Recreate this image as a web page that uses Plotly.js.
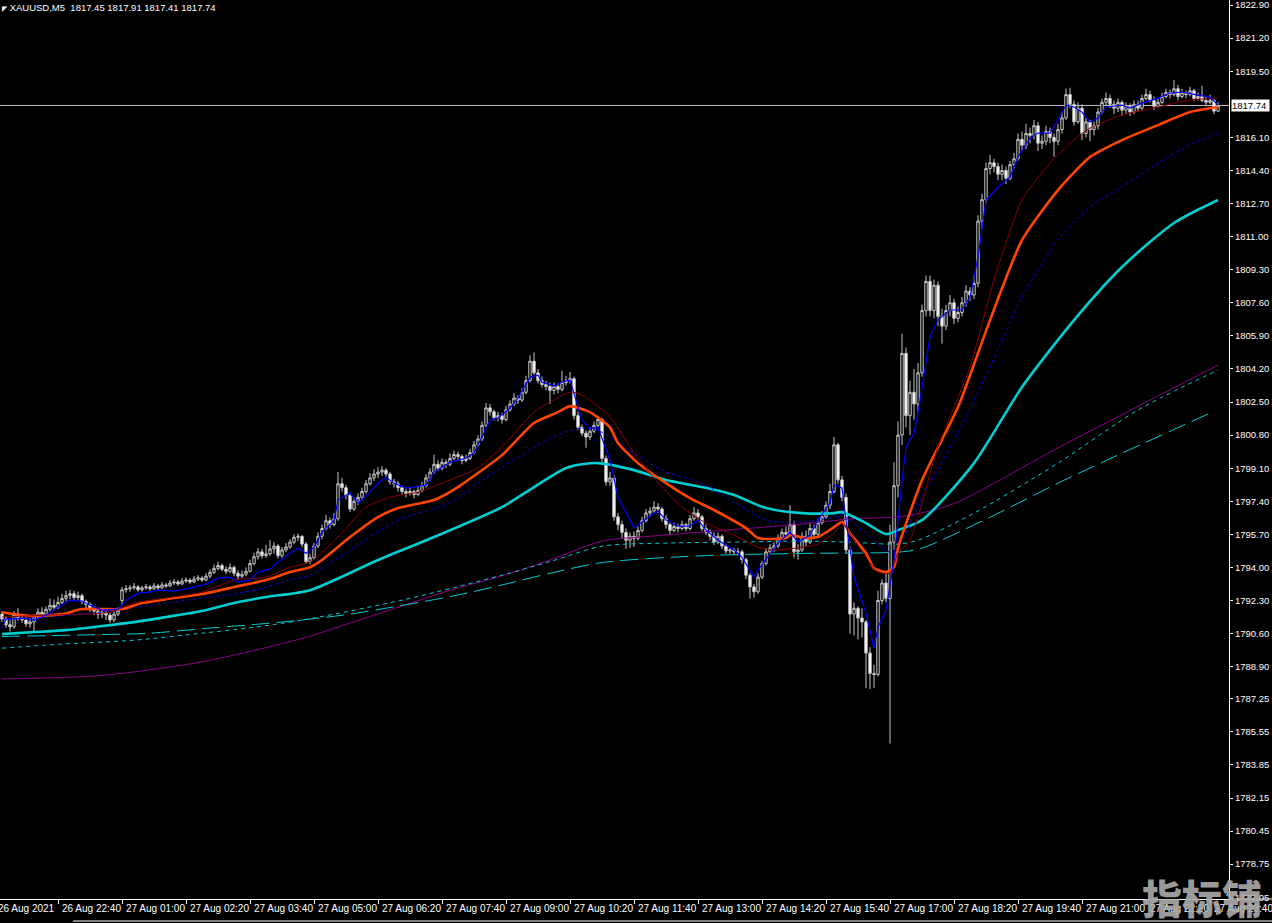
<!DOCTYPE html>
<html><head><meta charset="utf-8">
<script src="https://cdn.plot.ly/plotly-3.0.1.min.js"></script>
<style>html,body{margin:0;padding:0;background:#000;}#chart{width:1272px;height:923px;}</style>
</head><body><div id="chart"></div>
<script>
// XAUUSD M5 candles, 26 Aug 21:30 .. 27 Aug 23:50 (305 bars)
const opens = [
1791.60,1791.35,1791.05,1790.95,1791.55,1791.40,1791.30,1791.10,1791.20,1791.45,
1791.70,1791.60,1791.85,1792.05,1791.95,1792.20,1792.40,1792.55,1792.65,1792.45,
1792.55,1792.25,1792.10,1791.85,1791.75,1791.60,1791.70,1791.55,1791.30,1791.60,
1792.30,1792.85,1792.90,1792.95,1793.00,1792.85,1792.95,1793.00,1792.90,1793.05,
1792.95,1793.10,1793.05,1793.20,1793.25,1793.15,1793.30,1793.35,1793.25,1793.40,
1793.45,1793.35,1793.55,1793.75,1793.95,1794.10,1793.90,1793.80,1794.00,1793.70,
1793.55,1793.65,1793.80,1794.20,1794.55,1794.80,1794.60,1794.70,1794.95,1795.10,
1794.60,1794.90,1795.05,1795.30,1795.55,1795.60,1795.20,1794.30,1794.50,1795.10,
1795.60,1796.00,1796.40,1796.20,1796.50,1798.30,1798.10,1797.70,1797.00,1797.40,
1797.60,1797.90,1798.30,1798.60,1798.80,1798.90,1799.00,1798.80,1798.40,1798.30,
1798.10,1797.90,1797.80,1797.90,1797.75,1797.95,1798.20,1798.60,1798.90,1799.30,
1799.10,1799.40,1799.30,1799.60,1799.80,1799.70,1799.50,1799.60,1799.90,1800.30,
1800.60,1801.30,1802.20,1802.00,1801.70,1801.80,1801.60,1802.10,1802.40,1802.70,
1802.60,1803.00,1803.60,1804.60,1804.00,1803.60,1803.40,1803.30,1803.10,1803.30,
1803.15,1803.50,1803.60,1803.70,1801.80,1801.20,1800.90,1800.70,1801.00,1801.30,
1801.60,1799.60,1798.40,1798.60,1796.60,1796.20,1795.80,1795.40,1795.60,1795.50,
1795.90,1796.40,1796.80,1796.90,1797.10,1797.00,1796.50,1796.20,1795.90,1796.10,
1796.00,1796.20,1796.00,1796.50,1796.80,1796.60,1796.00,1795.80,1795.60,1795.30,
1795.60,1795.10,1794.85,1794.90,1794.80,1794.80,1794.40,1793.60,1793.00,1792.75,
1793.50,1794.20,1794.80,1795.00,1795.10,1795.50,1795.80,1795.70,1796.20,1794.80,
1794.90,1795.60,1795.30,1796.00,1795.70,1796.30,1796.60,1797.20,1797.90,1800.30,
1798.50,1797.60,1794.90,1791.60,1791.90,1791.40,1791.20,1789.60,1788.55,1788.50,
1792.30,1793.20,1792.40,1795.30,1798.20,1800.80,1805.00,1801.80,1803.00,1802.40,
1804.00,1807.20,1808.70,1807.20,1808.50,1806.90,1806.40,1807.20,1807.60,1806.80,
1807.10,1807.60,1808.20,1808.00,1808.60,1811.80,1812.90,1814.50,1814.80,1814.60,
1814.20,1814.40,1814.00,1814.70,1815.00,1816.00,1815.70,1816.30,1816.20,1816.70,
1815.80,1815.90,1816.40,1816.10,1815.90,1816.50,1817.10,1818.30,1817.80,1816.90,
1817.60,1816.30,1816.90,1816.50,1816.70,1817.40,1817.90,1818.10,1817.80,1817.60,
1817.90,1817.50,1817.70,1817.40,1817.80,1817.60,1818.10,1818.30,1818.00,1817.70,
1817.90,1818.20,1818.40,1818.30,1818.60,1818.20,1818.40,1818.30,1818.50,1818.10,
1818.20,1818.00,1817.90,1818.00,1817.45];
const highs = [
1791.75,1791.50,1791.30,1791.75,1791.90,1791.60,1791.45,1791.40,1791.60,1791.90,
1791.95,1792.00,1792.40,1792.35,1792.50,1792.65,1792.80,1792.85,1792.80,1792.75,
1792.65,1792.35,1792.20,1792.00,1791.90,1791.85,1791.80,1791.70,1791.75,1791.95,
1793.00,1793.10,1793.10,1793.20,1793.10,1793.05,1793.15,1793.10,1793.20,1793.15,
1793.25,1793.20,1793.35,1793.40,1793.35,1793.45,1793.50,1793.45,1793.55,1793.60,
1793.55,1793.70,1793.90,1794.15,1794.30,1794.20,1794.05,1794.20,1794.10,1793.85,
1793.85,1794.00,1794.40,1794.75,1795.00,1794.95,1795.15,1795.40,1795.30,1795.20,
1795.05,1795.25,1795.45,1795.70,1795.75,1795.65,1795.30,1794.70,1795.25,1795.80,
1796.20,1796.70,1796.55,1796.80,1798.90,1798.60,1798.25,1797.85,1797.60,1797.80,
1798.10,1798.50,1798.85,1799.05,1799.15,1799.20,1799.10,1798.90,1798.55,1798.45,
1798.20,1798.05,1798.15,1798.00,1798.20,1798.40,1798.80,1799.10,1799.80,1799.50,
1799.60,1799.55,1799.85,1800.00,1799.95,1799.80,1799.80,1800.10,1800.50,1800.80,
1801.50,1802.45,1802.40,1802.10,1802.00,1801.95,1802.30,1802.60,1802.95,1802.85,
1803.20,1803.85,1804.90,1805.05,1804.20,1803.80,1803.60,1803.50,1803.50,1803.45,
1804.10,1803.85,1804.05,1803.80,1802.00,1801.35,1801.05,1801.20,1801.50,1801.80,
1801.70,1799.75,1798.90,1798.75,1796.80,1796.40,1796.00,1795.80,1795.85,1796.10,
1796.60,1797.00,1797.10,1797.40,1797.30,1797.10,1796.70,1796.35,1796.30,1796.25,
1796.40,1796.30,1796.70,1797.10,1797.00,1796.70,1796.20,1795.95,1795.80,1795.80,
1795.70,1795.20,1795.05,1795.00,1795.00,1794.90,1794.50,1793.70,1793.15,1793.70,
1794.35,1795.00,1795.20,1795.30,1795.70,1796.00,1796.10,1797.20,1796.40,1795.20,
1795.80,1795.90,1796.30,1796.20,1796.50,1796.90,1797.40,1798.30,1800.70,1800.40,
1798.70,1797.80,1795.10,1792.20,1792.00,1791.90,1791.30,1789.90,1789.00,1792.80,
1793.40,1793.80,1796.20,1799.40,1801.50,1806.00,1805.30,1803.60,1804.20,1804.50,
1807.50,1809.00,1809.00,1808.80,1808.70,1807.30,1807.50,1808.00,1807.80,1807.40,
1807.90,1808.50,1808.40,1809.00,1812.10,1813.20,1814.80,1815.20,1815.00,1814.80,
1814.70,1814.60,1814.90,1815.30,1816.30,1816.40,1816.80,1816.60,1817.00,1816.90,
1816.20,1816.70,1816.60,1816.30,1816.80,1817.40,1818.60,1818.65,1818.00,1817.90,
1817.80,1817.10,1817.00,1816.90,1817.60,1818.10,1818.40,1818.30,1818.00,1818.10,
1818.00,1817.90,1817.85,1818.00,1818.00,1818.30,1818.60,1818.50,1818.20,1818.10,
1818.40,1818.60,1818.55,1819.05,1818.80,1818.60,1818.50,1818.70,1818.60,1818.40,
1818.75,1818.20,1818.30,1818.10,1817.91];
const lows = [
1791.20,1790.90,1790.70,1790.85,1791.25,1791.15,1790.95,1790.90,1790.70,1791.35,
1791.40,1791.50,1791.75,1791.80,1791.85,1792.10,1792.25,1792.35,1792.30,1792.30,
1792.10,1791.90,1791.70,1791.55,1791.35,1791.40,1791.30,1791.15,1791.20,1791.50,
1792.05,1792.70,1792.75,1792.85,1792.75,1792.75,1792.85,1792.80,1792.85,1792.85,
1792.90,1792.95,1793.00,1793.10,1793.05,1793.10,1793.20,1793.15,1793.20,1793.30,
1793.25,1793.30,1793.45,1793.65,1793.85,1793.80,1793.65,1793.70,1793.55,1793.40,
1793.45,1793.55,1793.75,1794.10,1794.40,1794.45,1794.50,1794.60,1794.70,1794.45,
1794.50,1794.80,1794.95,1795.20,1795.35,1795.05,1794.20,1794.15,1794.40,1795.00,
1795.45,1795.90,1796.00,1796.10,1796.40,1797.90,1797.50,1796.85,1796.90,1797.20,
1797.45,1797.80,1798.20,1798.45,1798.60,1798.70,1798.60,1798.25,1798.10,1797.90,
1797.75,1797.60,1797.70,1797.55,1797.65,1797.85,1798.10,1798.45,1798.80,1798.95,
1799.00,1799.10,1799.20,1799.50,1799.50,1799.30,1799.40,1799.50,1799.80,1800.20,
1800.50,1801.20,1801.80,1801.55,1801.50,1801.40,1801.50,1802.00,1802.30,1802.40,
1802.50,1802.90,1803.50,1803.90,1803.45,1803.25,1803.10,1802.40,1802.90,1802.95,
1803.05,1803.35,1803.45,1801.60,1801.05,1800.75,1800.15,1800.55,1800.90,1801.20,
1799.40,1798.20,1798.20,1796.40,1795.90,1795.50,1794.95,1795.00,1795.05,1795.40,
1795.80,1796.30,1796.60,1796.80,1796.80,1796.35,1796.00,1795.70,1795.80,1795.80,
1795.90,1795.85,1795.90,1796.40,1796.45,1795.85,1795.65,1795.40,1795.15,1795.20,
1794.95,1794.70,1794.70,1794.65,1794.60,1794.20,1793.40,1792.40,1792.45,1792.65,
1793.40,1794.10,1794.70,1794.80,1795.00,1795.40,1795.50,1795.60,1794.50,1794.40,
1794.80,1795.10,1795.20,1795.50,1795.60,1796.20,1796.50,1797.00,1797.80,1798.30,
1797.40,1794.70,1790.60,1790.50,1790.30,1790.40,1787.80,1787.75,1787.80,1788.40,
1792.10,1792.20,1784.95,1794.90,1797.60,1800.30,1801.20,1800.80,1801.60,1802.00,
1803.80,1806.90,1806.90,1806.80,1806.40,1805.50,1806.20,1806.90,1806.50,1806.60,
1806.90,1807.40,1807.70,1807.80,1808.40,1811.40,1812.70,1814.20,1814.30,1813.90,
1813.90,1813.70,1813.90,1814.50,1814.90,1815.40,1815.50,1815.80,1816.00,1815.40,
1815.50,1815.70,1815.80,1815.10,1815.70,1816.30,1817.00,1817.60,1816.70,1816.80,
1815.95,1816.10,1815.90,1816.20,1816.50,1817.30,1817.70,1817.60,1817.30,1817.40,
1817.20,1817.30,1817.20,1817.30,1817.40,1817.50,1818.00,1817.90,1817.50,1817.60,
1817.80,1818.10,1818.10,1818.20,1818.00,1818.10,1818.10,1818.20,1817.95,1818.00,
1817.90,1817.70,1817.80,1817.30,1817.41];
const closes = [
1791.35,1791.05,1790.95,1791.55,1791.40,1791.30,1791.10,1791.20,1791.45,1791.70,
1791.60,1791.85,1792.05,1791.95,1792.20,1792.40,1792.55,1792.65,1792.45,1792.55,
1792.25,1792.10,1791.85,1791.75,1791.60,1791.70,1791.55,1791.30,1791.60,1791.80,
1792.85,1792.90,1792.95,1793.00,1792.85,1792.95,1793.00,1792.90,1793.05,1792.95,
1793.10,1793.05,1793.20,1793.25,1793.15,1793.30,1793.35,1793.25,1793.40,1793.45,
1793.35,1793.55,1793.75,1793.95,1794.10,1793.90,1793.80,1794.00,1793.70,1793.55,
1793.65,1793.80,1794.20,1794.55,1794.80,1794.60,1794.70,1794.95,1795.10,1794.60,
1794.90,1795.05,1795.30,1795.55,1795.60,1795.20,1794.30,1794.50,1795.10,1795.60,
1796.00,1796.40,1796.20,1796.50,1798.30,1798.10,1797.70,1797.00,1797.40,1797.60,
1797.90,1798.30,1798.60,1798.80,1798.90,1799.00,1798.80,1798.40,1798.30,1798.10,
1797.90,1797.80,1797.90,1797.75,1797.95,1798.20,1798.60,1798.90,1799.30,1799.10,
1799.40,1799.30,1799.60,1799.80,1799.70,1799.50,1799.60,1799.90,1800.30,1800.60,
1801.30,1802.20,1802.00,1801.70,1801.80,1801.60,1802.10,1802.40,1802.70,1802.60,
1803.00,1803.60,1804.60,1804.00,1803.60,1803.40,1803.30,1803.10,1803.30,1803.15,
1803.50,1803.60,1803.70,1801.80,1801.20,1800.90,1800.70,1801.00,1801.30,1801.60,
1799.60,1798.40,1798.60,1796.60,1796.20,1795.80,1795.40,1795.60,1795.50,1795.90,
1796.40,1796.80,1796.90,1797.10,1797.00,1796.50,1796.20,1795.90,1796.10,1796.00,
1796.20,1796.00,1796.50,1796.80,1796.60,1796.00,1795.80,1795.60,1795.30,1795.60,
1795.10,1794.85,1794.90,1794.80,1794.80,1794.40,1793.60,1793.00,1792.75,1793.50,
1794.20,1794.80,1795.00,1795.10,1795.50,1795.80,1795.70,1796.20,1794.80,1794.90,
1795.60,1795.30,1796.00,1795.70,1796.30,1796.60,1797.20,1797.90,1800.30,1798.50,
1797.60,1794.90,1791.60,1791.90,1791.40,1791.20,1789.60,1788.55,1788.50,1792.30,
1793.20,1792.40,1795.30,1798.20,1800.80,1805.00,1801.80,1803.00,1802.40,1804.00,
1807.20,1808.70,1807.20,1808.50,1806.90,1806.40,1807.20,1807.60,1806.80,1807.10,
1807.60,1808.20,1808.00,1808.60,1811.80,1812.90,1814.50,1814.80,1814.60,1814.20,
1814.40,1814.00,1814.70,1815.00,1816.00,1815.70,1816.30,1816.20,1816.70,1815.80,
1815.90,1816.40,1816.10,1815.90,1816.50,1817.10,1818.30,1817.80,1816.90,1817.60,
1816.30,1816.90,1816.50,1816.70,1817.40,1817.90,1818.10,1817.80,1817.60,1817.90,
1817.50,1817.70,1817.40,1817.80,1817.60,1818.10,1818.30,1818.00,1817.70,1817.90,
1818.20,1818.40,1818.30,1818.60,1818.20,1818.40,1818.30,1818.50,1818.10,1818.20,
1818.00,1817.90,1818.00,1817.45,1817.74];

const maFastBars = [0,1,5,8,10,12,14,17,20,22,25,29,31,34,37,39,43,47,51,54,57,59,62,64,67,69,72,74,76,78,80,83,84,87,89,92,94,96,98,101,103,106,108,112,116,118,120,122,124,127,129,132,134,135,138,140,142,143,145,147,149,152,154,157,158,160,163,164,166,169,172,174,176,179,183,185,188,189,192,194,197,199,202,204,207,208,210,211,213,216,218,219,221,223,225,226,228,229,232,234,237,240,242,244,246,249,252,254,257,259,262,264,266,268,270,272,274,276,280,282,285,289,292,295,299,302,304];
const maFastVals = [1790.88,1791.34,1791.40,1791.29,1791.45,1791.65,1791.96,1792.32,1792.27,1792.06,1791.81,1791.86,1792.32,1792.68,1792.73,1792.83,1792.78,1792.94,1793.14,1793.45,1793.50,1793.24,1793.35,1793.76,1793.91,1794.27,1794.73,1794.99,1794.73,1795.04,1795.81,1796.43,1797.46,1797.82,1797.31,1797.87,1798.33,1798.64,1798.33,1798.08,1798.13,1798.23,1798.90,1799.41,1799.62,1799.87,1800.70,1801.57,1801.68,1802.19,1802.70,1803.78,1803.88,1803.52,1803.32,1803.52,1803.63,1802.96,1801.57,1801.16,1801.20,1799.52,1797.61,1796.43,1796.02,1796.33,1796.79,1796.89,1796.43,1796.12,1796.12,1796.43,1795.92,1795.40,1794.89,1794.53,1793.50,1793.86,1794.73,1795.25,1795.81,1795.30,1795.66,1796.43,1797.31,1798.23,1798.08,1796.43,1793.50,1791.65,1789.85,1790.93,1791.81,1794.38,1798.40,1800.19,1800.91,1801.93,1805.84,1806.71,1807.23,1807.23,1807.89,1809.95,1812.88,1813.55,1814.06,1815.09,1816.06,1816.32,1816.32,1816.99,1817.76,1817.66,1817.40,1816.89,1817.09,1817.66,1817.76,1817.61,1817.86,1818.12,1818.38,1818.43,1818.27,1818.17,1817.76];

const maRedBars = [0,12,27,33,41,50,58,66,72,77,84,91,97,104,112,119,125,133,137,142,145,152,158,163,170,176,183,189,193,200,204,208,210,212,216,219,222,224,227,234,242,248,255,262,267,272,280,289,297,304];
const maRedVals = [1791.45,1791.55,1791.70,1792.17,1792.42,1792.73,1793.35,1793.50,1794.01,1794.27,1795.56,1797.10,1797.61,1797.87,1798.49,1799.11,1800.19,1801.98,1802.50,1803.01,1802.86,1801.73,1799.87,1798.59,1797.10,1796.28,1795.66,1795.04,1794.89,1795.04,1795.20,1795.76,1796.28,1795.76,1794.53,1793.76,1793.71,1794.73,1795.40,1800.19,1804.30,1808.77,1812.88,1814.78,1815.81,1816.58,1817.25,1817.66,1818.02,1818.12];

const maOrangeBars = [0,5,8,15,20,25,30,35,41,50,58,66,72,77,80,87,94,99,108,114,119,125,133,139,142,147,149,152,154,159,166,172,178,186,189,196,197,201,204,208,210,212,216,218,221,223,224,230,239,247,255,264,272,280,289,297,304];
const maOrangeVals = [1791.70,1791.55,1791.50,1791.60,1791.86,1791.86,1791.86,1792.17,1792.37,1792.63,1792.99,1793.35,1793.76,1794.01,1794.38,1795.56,1796.59,1797.05,1797.46,1798.13,1798.85,1799.77,1801.42,1801.98,1802.29,1801.98,1801.70,1801.20,1800.39,1799.36,1798.33,1797.56,1796.95,1796.02,1795.51,1795.51,1795.66,1795.51,1795.56,1796.07,1796.33,1795.76,1794.73,1793.96,1793.76,1794.01,1794.99,1798.49,1802.24,1806.71,1810.82,1813.39,1815.09,1815.96,1816.73,1817.40,1817.66];

const maBlueDotBars = [0,25,37,50,62,72,77,84,99,112,120,128,137,145,150,158,166,175,183,191,200,208,210,216,221,223,230,239,247,255,264,272,280,289,297,304];
const maBlueDotVals = [1791.29,1791.70,1792.06,1792.42,1792.78,1793.35,1793.60,1794.48,1796.43,1797.31,1798.49,1799.52,1800.65,1801.16,1800.95,1799.87,1798.90,1798.33,1797.36,1796.43,1796.33,1796.59,1796.69,1795.76,1794.89,1794.73,1797.61,1800.91,1804.30,1807.89,1810.82,1812.52,1813.55,1814.78,1815.71,1816.32];

const maCyanBars = [0,8,16,25,33,41,50,58,66,77,94,108,125,133,141,145,149,158,166,175,183,191,200,208,210,216,221,224,230,243,255,268,280,293,304];
const maCyanVals = [1790.57,1790.68,1790.78,1790.99,1791.19,1791.45,1791.76,1792.17,1792.48,1792.83,1794.38,1795.56,1797.10,1798.13,1799.11,1799.30,1799.36,1799.00,1798.49,1798.13,1797.72,1797.05,1796.79,1796.79,1796.84,1796.28,1795.71,1795.92,1796.43,1799.36,1803.27,1806.71,1809.44,1811.70,1812.88];

const maCyanDotBars = [0,15,33,50,62,75,100,125,137,150,166,183,200,212,224,229,243,264,284,304];
const maCyanDotVals = [1789.85,1790.06,1790.26,1790.62,1790.90,1791.29,1792.32,1793.60,1794.30,1795.09,1795.25,1795.30,1795.35,1795.30,1795.20,1795.40,1796.79,1799.36,1802.09,1804.14];

const maCyanDashBars = [0,25,37,50,65,75,87,112,125,137,150,175,200,225,230,247,264,280,302];
const maCyanDashVals = [1790.45,1790.55,1790.62,1790.85,1791.10,1791.30,1791.60,1792.50,1793.10,1793.70,1794.25,1794.60,1794.72,1794.80,1794.99,1796.58,1798.33,1799.87,1801.93];

const maPurpleBars = [0,25,50,75,87,100,112,125,137,150,162,175,200,212,225,237,250,262,275,287,304];
const maPurpleVals = [1788.27,1788.45,1789.15,1790.35,1791.14,1792.02,1792.83,1793.57,1794.38,1795.35,1795.60,1795.82,1796.23,1796.49,1796.62,1797.20,1798.55,1799.93,1801.32,1802.60,1804.40];

// Axis ticks
const xTickBars = [-2,14,30,46,62,78,94,110,126,142,158,174,190,206,222,238,254,270,286,302];
const xTickText = ['26 Aug 2021','26 Aug 22:40','27 Aug 01:00','27 Aug 02:20','27 Aug 03:40','27 Aug 05:00','27 Aug 06:20','27 Aug 07:40','27 Aug 09:00','27 Aug 10:20','27 Aug 11:40','27 Aug 13:00','27 Aug 14:20','27 Aug 15:40','27 Aug 17:00','27 Aug 18:20','27 Aug 19:40','27 Aug 21:00','27 Aug 22:20','27 Aug 23:40'];
const yTickVals = [1822.90,1821.20,1819.50,1816.10,1814.40,1812.70,1811.00,1809.30,1807.60,1805.90,1804.20,1802.50,1800.80,1799.10,1797.40,1795.70,1794.00,1792.30,1790.60,1788.90,1787.25,1785.55,1783.85,1782.15,1780.45,1778.75,1777.05];
const bidPrice = 1817.74;
const titleText = 'XAUUSD,M5\u00a0\u00a01817.45 1817.91 1817.41 1817.74';

const barPos = closes.map((_, i) => i);
const X0 = -0.5, X1 = 306.75;
const toPaper = b => (b - X0) / (X1 - X0);
const FONT = '"Liberation Sans", Arial, sans-serif';

function maLine(xs, ys, color, width, dash, smooth) {
  const line = {color: color, width: width, dash: dash || 'solid'};
  if (smooth) { line.shape = 'spline'; line.smoothing = smooth; }
  return {type: 'scatter', mode: 'lines', x: xs, y: ys, hoverinfo: 'skip', line: line};
}

const traces = [
  {type: 'candlestick', x: barPos, open: opens, high: highs, low: lows, close: closes,
   whiskerwidth: 0, hoverinfo: 'skip',
   increasing: {line: {color: '#c8c8c8', width: 1}, fillcolor: '#000000'},
   decreasing: {line: {color: '#c8c8c8', width: 1}, fillcolor: '#ffffff'}},
  maLine(maPurpleBars, maPurpleVals, '#8b008b', 1, null, 0.8),
  maLine(maCyanDashBars, maCyanDashVals, '#00ced1', 1, '18px,7px', 0.8),
  maLine(maCyanDotBars, maCyanDotVals, '#00ced1', 1, '4px,4px', 0.8),
  maLine(maCyanBars, maCyanVals, '#00ced1', 2.6, null, 0.7),
  maLine(maBlueDotBars, maBlueDotVals, '#0000ff', 1, '3px,3px', 0.7),
  maLine(maOrangeBars, maOrangeVals, '#ff4500', 2.6, null, 0.6),
  maLine(maRedBars, maRedVals, '#8b0000', 1, null, 0.6),
  maLine(maFastBars, maFastVals, '#0000ff', 1.2)
];

const annotations = xTickBars.map((b, k) => ({
  xref: 'paper', yref: 'paper', x: toPaper(b), y: 0, xanchor: 'left', yanchor: 'top',
  xshift: 2, yshift: -2, showarrow: false, text: xTickText[k],
  font: {family: FONT, size: 10, color: '#ffffff'}
}));
annotations.push({
  xref: 'paper', yref: 'paper', x: 0, y: 1, xanchor: 'left', yanchor: 'top', yshift: 0,
  showarrow: false, text: '<span style="font-size:7px">\u25E4</span>\u00a0' + titleText,
  font: {family: FONT, size: 9.5, color: '#ffffff'}
});
annotations.push({
  xref: 'paper', yref: 'y', x: 1, y: bidPrice, xanchor: 'left', yanchor: 'middle', xshift: 2,
  showarrow: false, text: bidPrice.toFixed(2) + '\u00a0', bgcolor: '#ffffff', borderpad: 0,
  font: {family: FONT, size: 9.5, color: '#000000'}
});
annotations.push({
  xref: 'paper', yref: 'paper', x: 1202 / 1229, y: 0.002, xanchor: 'center', yanchor: 'middle',
  showarrow: false, text: '指标铺',
  font: {family: '"Noto Sans CJK SC", sans-serif', size: 40, color: 'rgba(170,170,170,0.92)', weight: 900}
});

const layout = {
  width: 1272, height: 923,
  margin: {l: 0, r: 43, t: 0, b: 24, pad: 0},
  paper_bgcolor: '#000000', plot_bgcolor: '#000000',
  showlegend: false, boxgap: 0.4, boxgroupgap: 0,
  font: {family: FONT, size: 9.5, color: '#ffffff'},
  xaxis: {range: [X0, X1], autorange: false, rangeslider: {visible: false},
          showgrid: false, zeroline: false, showline: true, linecolor: '#ffffff', linewidth: 1,
          tickmode: 'array', tickvals: xTickBars, ticks: 'outside', ticklen: 4,
          tickcolor: '#ffffff', showticklabels: false, fixedrange: true},
  yaxis: {range: [1776.96, 1823.16], autorange: false, side: 'right',
          showgrid: false, zeroline: false, showline: true, linecolor: '#ffffff', linewidth: 1,
          tickmode: 'array', tickvals: yTickVals, ticktext: yTickVals.map(v => v.toFixed(2)),
          ticks: 'outside', ticklen: 3, tickcolor: '#ffffff', ticklabeloverflow: 'allow',
          tickfont: {family: FONT, size: 9.5, color: '#ffffff'}, fixedrange: true},
  shapes: [
    {type: 'line', xref: 'paper', yref: 'y', x0: 0, x1: 1, y0: bidPrice, y1: bidPrice,
     line: {color: '#c0c0c0', width: 1}, layer: 'below'},
    {type: 'line', xref: 'paper', yref: 'paper', x0: 1, x1: 1272 / 1229, y0: 0, y1: 0,
     line: {color: '#ffffff', width: 1}},
    {type: 'line', xref: 'paper', yref: 'paper', x0: 73 / 1229, x1: 1272 / 1229,
     y0: -22 / 899, y1: -22 / 899, line: {color: '#ffffff', width: 1}}
  ],
  annotations: annotations
};

Plotly.newPlot('chart', traces, layout, {staticPlot: true, displayModeBar: false});
</script>
</body></html>
